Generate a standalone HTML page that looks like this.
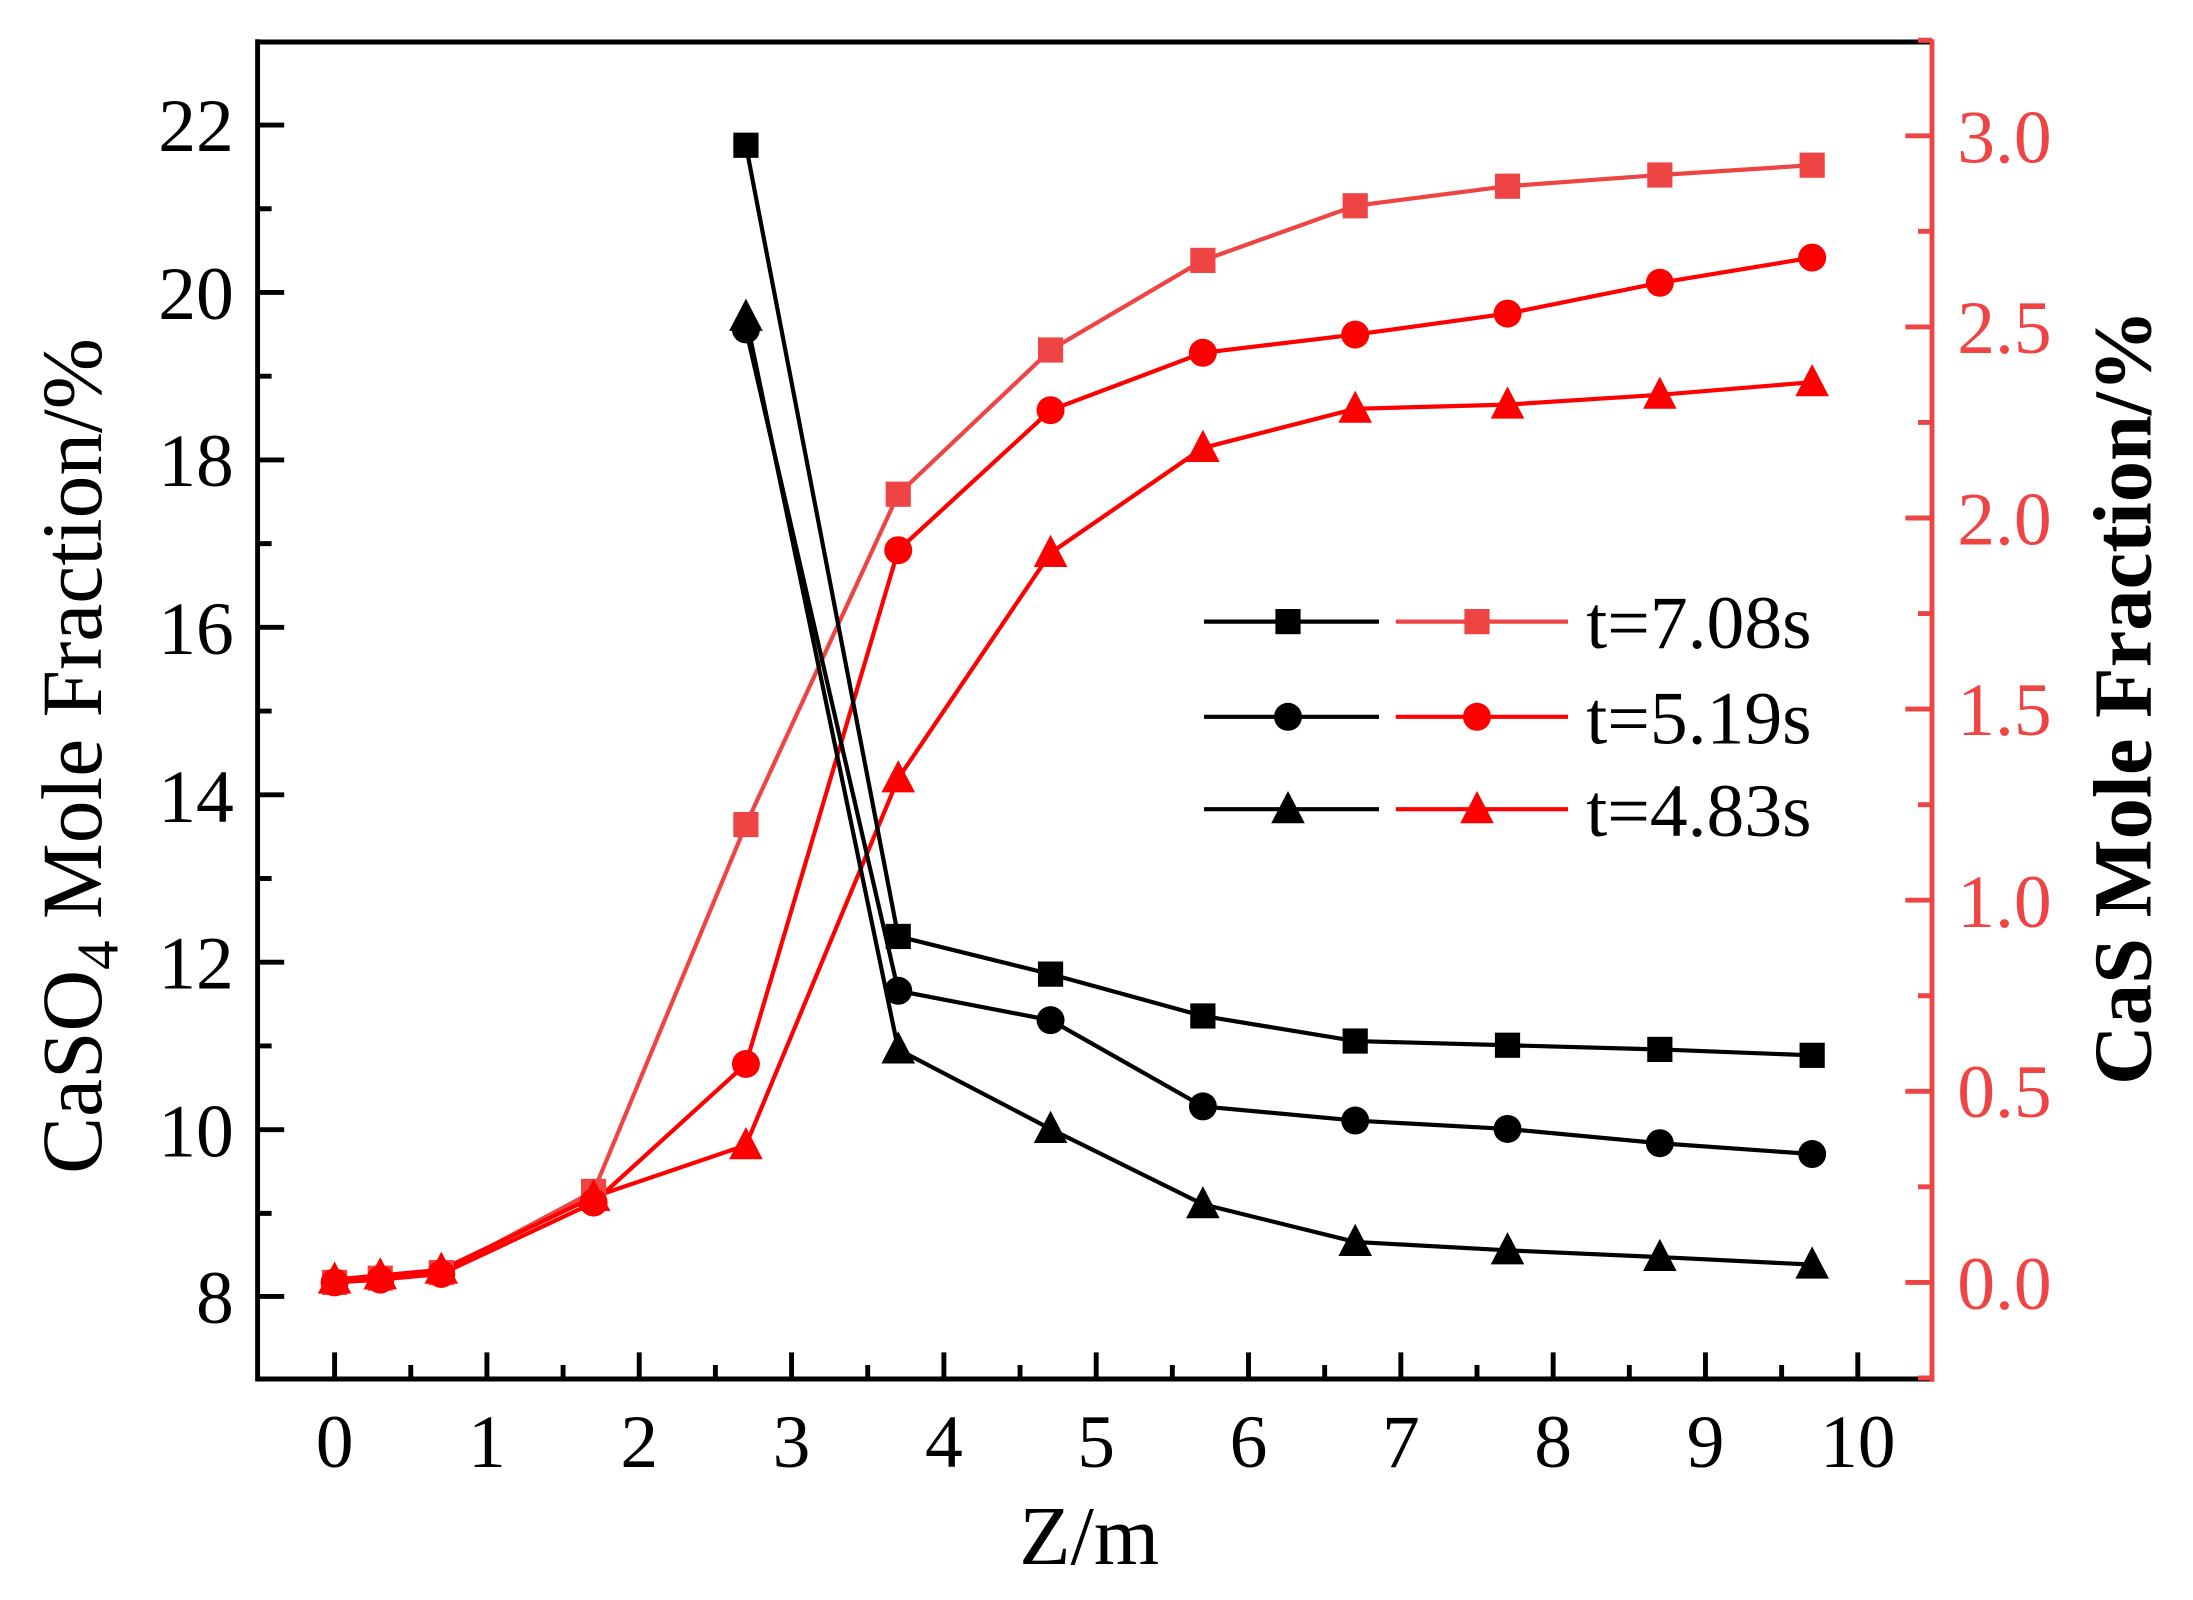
<!DOCTYPE html>
<html><head><meta charset="utf-8"><style>html,body{margin:0;padding:0;background:#fff}svg{display:block}</style></head>
<body>
<svg xmlns="http://www.w3.org/2000/svg" width="2193" height="1600" viewBox="0 0 2193 1600">
<defs>
<rect id="sq" x="-9" y="-9" width="18" height="18"/>
<circle id="ci" r="10"/>
<polygon id="tr" points="0,-13 12,10 -12,10"/>
</defs>
<g transform="scale(1.4)" font-family="'Liberation Serif', serif">
<g stroke="#000" stroke-width="3.5" fill="none">
<path d="M184,30 H1380 M184,28 V985 H1380"/>
<path d="M184,89.3 h19 M184,208.9 h19 M184,328.5 h19 M184,448.1 h19 M184,567.7 h19 M184,687.3 h19 M184,806.9 h19 M184,926 h19"/>
<path d="M184,149.1 h10 M184,268.7 h10 M184,388.3 h10 M184,507.9 h10 M184,627.5 h10 M184,747.1 h10 M184,866.7 h10"/>
<path d="M239,985 v-19 M347.8,985 v-19 M456.6,985 v-19 M565.4,985 v-19 M674.2,985 v-19 M783,985 v-19 M891.8,985 v-19 M1000.6,985 v-19 M1109.4,985 v-19 M1218.2,985 v-19 M1327,985 v-19"/>
<path d="M293.4,985 v-10 M402.2,985 v-10 M511,985 v-10 M619.8,985 v-10 M728.6,985 v-10 M837.4,985 v-10 M946.2,985 v-10 M1055,985 v-10 M1163.8,985 v-10 M1272.6,985 v-10"/>
</g>
<g stroke="#ef4444" stroke-width="3.5" fill="none">
<path d="M1380,28 V987"/>
<path d="M1380,916 h-19 M1380,779.5 h-19 M1380,643 h-19 M1380,506.5 h-19 M1380,370 h-19 M1380,233.5 h-19 M1380,97 h-19"/>
<path d="M1380,847.75 h-10 M1380,711.25 h-10 M1380,574.75 h-10 M1380,438.25 h-10 M1380,301.75 h-10 M1380,165.25 h-10 M1380,984.25 h-10 M1380,28.75 h-10"/>
</g>
<g font-size="54" text-anchor="end" fill="#000">
<text x="167" y="108">22</text><text x="167" y="228">20</text><text x="167" y="347">18</text><text x="167" y="467">16</text><text x="167" y="587">14</text><text x="167" y="706">12</text><text x="167" y="826">10</text><text x="167" y="945">8</text>
</g>
<g font-size="54" text-anchor="middle" fill="#000">
<text x="239" y="1048">0</text><text x="347.8" y="1048">1</text><text x="456.6" y="1048">2</text><text x="565.4" y="1048">3</text><text x="674.2" y="1048">4</text><text x="783" y="1048">5</text><text x="891.8" y="1048">6</text><text x="1000.6" y="1048">7</text><text x="1109.4" y="1048">8</text><text x="1218.2" y="1048">9</text><text x="1327" y="1048">10</text>
</g>
<g font-size="54" fill="#ef4444">
<text x="1398" y="935">0.0</text><text x="1398" y="798">0.5</text><text x="1398" y="662">1.0</text><text x="1398" y="525">1.5</text><text x="1398" y="389">2.0</text><text x="1398" y="252">2.5</text><text x="1398" y="116">3.0</text>
</g>
<text x="778" y="1117" font-size="60" text-anchor="middle">Z/m</text>
<text transform="translate(72,540) rotate(-90)" font-size="61" text-anchor="middle">CaSO<tspan font-size="42" dy="12">4</tspan><tspan dy="-12"> Mole Fraction/%</tspan></text>
<text transform="translate(1536,498) rotate(-90)" font-size="59" font-weight="bold" text-anchor="middle">CaS Mole Fraction/%</text>

<g fill="none" stroke-width="3">
<polyline stroke="#ef4444" points="239,916 271.6,913 315.2,909 424,851 532.8,589 641.6,353 750.4,250 859.2,186 968,147 1076.8,133 1185.6,125 1294.4,118"/>
<polyline stroke="#ff0000" points="239,916 271.6,914 315.2,910 424,859 532.8,760 641.6,393 750.4,293 859.2,252 968,239 1076.8,224 1185.6,202 1294.4,184"/>
<polyline stroke="#ff0000" points="239,914 271.6,911 315.2,907 424,855 532.8,818 641.6,556 750.4,395 859.2,320 968,292 1076.8,289 1185.6,282 1294.4,273"/>
</g>
<g fill="#ef4444">
<use href="#sq" x="239" y="916"/><use href="#sq" x="271.6" y="913"/><use href="#sq" x="315.2" y="909"/><use href="#sq" x="424" y="851"/><use href="#sq" x="532.8" y="589"/><use href="#sq" x="641.6" y="353"/><use href="#sq" x="750.4" y="250"/><use href="#sq" x="859.2" y="186"/><use href="#sq" x="968" y="147"/><use href="#sq" x="1076.8" y="133"/><use href="#sq" x="1185.6" y="125"/><use href="#sq" x="1294.4" y="118"/>
</g>
<g fill="#ff0000">
<use href="#ci" x="239" y="916"/><use href="#ci" x="271.6" y="914"/><use href="#ci" x="315.2" y="910"/><use href="#ci" x="424" y="859"/><use href="#ci" x="532.8" y="760"/><use href="#ci" x="641.6" y="393"/><use href="#ci" x="750.4" y="293"/><use href="#ci" x="859.2" y="252"/><use href="#ci" x="968" y="239"/><use href="#ci" x="1076.8" y="224"/><use href="#ci" x="1185.6" y="202"/><use href="#ci" x="1294.4" y="184"/>
<use href="#tr" x="239" y="914"/><use href="#tr" x="271.6" y="911"/><use href="#tr" x="315.2" y="907"/><use href="#tr" x="424" y="855"/><use href="#tr" x="532.8" y="818"/><use href="#tr" x="641.6" y="556"/><use href="#tr" x="750.4" y="395"/><use href="#tr" x="859.2" y="320"/><use href="#tr" x="968" y="292"/><use href="#tr" x="1076.8" y="289"/><use href="#tr" x="1185.6" y="282"/><use href="#tr" x="1294.4" y="273"/>
</g>

<g fill="none" stroke="#000" stroke-width="3">
<polyline points="532.8,103.75 641.6,668.9 750.4,695.8 859.2,725.7 968,743.6 1076.8,746.6 1185.6,749.6 1294.4,753.8"/>
<polyline points="532.8,235.3 641.6,707.7 750.4,728.7 859.2,790.3 968,800.4 1076.8,806.4 1185.6,816.6 1294.4,824.3"/>
<polyline points="532.8,226.3 641.6,749.6 750.4,806.4 859.2,860.2 968,887.1 1076.8,893.1 1185.6,897.9 1294.4,903.3"/>
</g>
<g fill="#000">
<use href="#sq" x="532.8" y="103.75"/><use href="#sq" x="641.6" y="668.9"/><use href="#sq" x="750.4" y="695.8"/><use href="#sq" x="859.2" y="725.7"/><use href="#sq" x="968" y="743.6"/><use href="#sq" x="1076.8" y="746.6"/><use href="#sq" x="1185.6" y="749.6"/><use href="#sq" x="1294.4" y="753.8"/>
<use href="#ci" x="532.8" y="235.3"/><use href="#ci" x="641.6" y="707.7"/><use href="#ci" x="750.4" y="728.7"/><use href="#ci" x="859.2" y="790.3"/><use href="#ci" x="968" y="800.4"/><use href="#ci" x="1076.8" y="806.4"/><use href="#ci" x="1185.6" y="816.6"/><use href="#ci" x="1294.4" y="824.3"/>
<use href="#tr" x="532.8" y="226.3"/><use href="#tr" x="641.6" y="749.6"/><use href="#tr" x="750.4" y="806.4"/><use href="#tr" x="859.2" y="860.2"/><use href="#tr" x="968" y="887.1"/><use href="#tr" x="1076.8" y="893.1"/><use href="#tr" x="1185.6" y="897.9"/><use href="#tr" x="1294.4" y="903.3"/>
</g>

<g stroke-width="3">
<path stroke="#000" d="M860,444 h125 M860,512 h125 M860,578 h125"/>
<path stroke="#ef4444" d="M997,444 h123"/>
<path stroke="#ff0000" d="M997,512 h123 M997,578 h123"/>
</g>
<use href="#sq" x="920" y="444" fill="#000"/><use href="#sq" x="1055" y="444" fill="#ef4444"/>
<use href="#ci" x="920" y="512" fill="#000"/><use href="#ci" x="1055" y="512" fill="#ff0000"/>
<use href="#tr" x="920" y="578" fill="#000"/><use href="#tr" x="1055" y="578" fill="#ff0000"/>
<g font-size="54" fill="#000">
<text x="1133" y="463">t=7.08s</text><text x="1133" y="531">t=5.19s</text><text x="1133" y="597">t=4.83s</text>
</g>
</g>
</svg>
</body></html>
